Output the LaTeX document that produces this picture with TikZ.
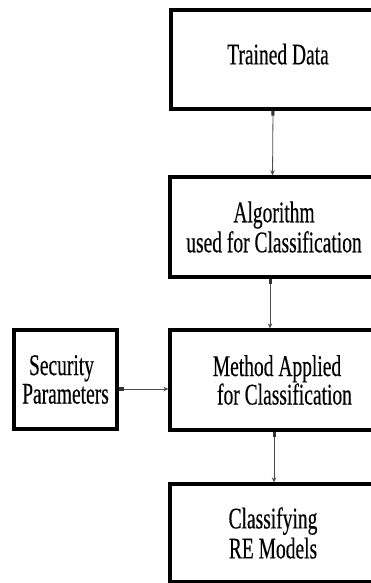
\documentclass[tikz,border=0pt]{standalone}
\usepackage{fontspec}
\newfontfamily\boxfont[FakeStretch=0.65,FakeBold=0.3]{Liberation Serif}
\usetikzlibrary{arrows.meta}
\begin{document}
\begin{tikzpicture}[x=1pt,y=1pt,
  boxstyle/.style={draw=black,line width=3.3pt,rectangle,inner sep=0pt,align=center,
    font=\boxfont\fontsize{30pt}{30pt}\selectfont},
  conn/.style={draw=black!70,line width=0.8pt,
    arrows={Rectangle[length=5pt,width=3pt,black!80]-Stealth[length=5pt,width=4.5pt]}}]
\useasboundingbox (0,0) rectangle (371,583);
\clip (0,0) rectangle (371,583);
\fill[white] (0,0) rectangle (371,583);
% boxes (y = 583 - image y)
\node[boxstyle,minimum width=214pt,minimum height=99pt] (b1) at (278,523.5) {\raisebox{11pt}{Trained Data}};
\node[boxstyle,minimum width=208pt,minimum height=100pt] (b2) at (274,356) {Algorithm\\used for Classification};
\node[boxstyle,minimum width=214pt,minimum height=100pt,
  font=\boxfont\fontsize{30pt}{25pt}\selectfont] (b3) at (277,203) {Method Applied\\\hspace*{15pt}for Classification};
\node[boxstyle,minimum width=206pt,minimum height=98pt] (b4) at (273,50) {Classifying\\RE Models};
\node[boxstyle,minimum width=103pt,minimum height=99pt,
  font=\boxfont\fontsize{30pt}{28.5pt}\selectfont] (sec) at (65.5,203.5) {Security\hspace*{8pt}\\Parameters};
% connectors
\draw[conn] ([xshift=-5pt]b1.south) -- ([xshift=-1.5pt]b2.north);
\draw[conn] ([xshift=-4pt]b2.south) -- ([xshift=-7pt]b3.north);
\draw[conn] ([xshift=-3pt]b3.south) -- ([xshift=1pt]b4.north);
\draw[conn] ([yshift=-9.5pt]sec.east) -- ([yshift=-9pt]b3.west);
\end{tikzpicture}
\end{document}
